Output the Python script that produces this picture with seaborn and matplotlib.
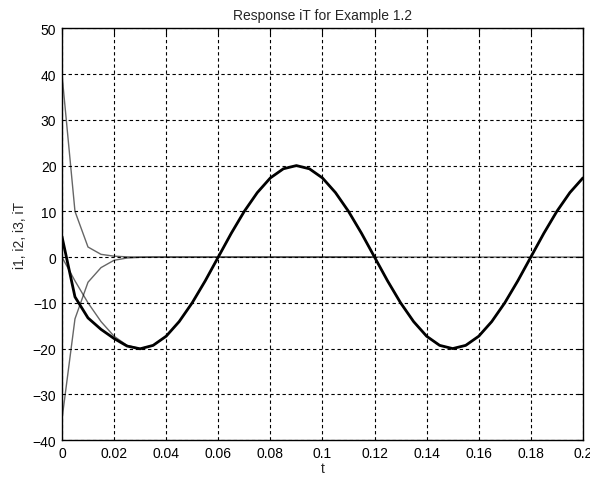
import numpy as np
import matplotlib
matplotlib.use("Agg")
import matplotlib.pyplot as plt
import seaborn as sns

# time samples (s)
t = [0.000, 0.005, 0.010, 0.015, 0.020, 0.025, 0.030, 0.035, 0.040, 0.045,
     0.050, 0.055, 0.060, 0.065, 0.070, 0.075, 0.080, 0.085, 0.090, 0.095,
     0.100, 0.105, 0.110, 0.115, 0.120, 0.125, 0.130, 0.135, 0.140, 0.145,
     0.150, 0.155, 0.160, 0.165, 0.170, 0.175, 0.180, 0.185, 0.190, 0.195,
     0.200]

# transient current i1 (decays from 40)
i1 = [40.0, 10.0, 2.2, 0.6, 0.2, 0.05, 0.0, 0.0, 0.0, 0.0,
      0.0, 0.0, 0.0, 0.0, 0.0, 0.0, 0.0, 0.0, 0.0, 0.0,
      0.0, 0.0, 0.0, 0.0, 0.0, 0.0, 0.0, 0.0, 0.0, 0.0,
      0.0, 0.0, 0.0, 0.0, 0.0, 0.0, 0.0, 0.0, 0.0, 0.0,
      0.0]

# transient current i2 (rises from about -36), shorter record
i2 = [-35.5, -13.5, -5.5, -2.3, -0.7, -0.2, -0.05, 0.0, 0.0, 0.0,
      0.0, 0.0, 0.0, 0.0, 0.0, 0.0, 0.0, 0.0, 0.0, 0.0,
      0.0, 0.0, 0.0, 0.0, 0.0]

# steady-state current i3
i3 = [0.0, -5.2, -10.0, -14.1, -17.3, -19.3, -20.0, -19.3, -17.3, -14.1,
      -10.0, -5.2, 0.0, 5.2, 10.0, 14.1, 17.3, 19.3, 20.0, 19.3,
      17.3, 14.1, 10.0, 5.2, 0.0, -5.2, -10.0, -14.1, -17.3, -19.3,
      -20.0, -19.3, -17.3, -14.1, -10.0, -5.2, 0.0, 5.2, 10.0, 14.1,
      17.3]

# total response iT = i1 + i2 + i3
iT = np.array(i1) + np.array(i3)
iT[:len(i2)] += np.array(i2)

sns.set_style("white")
plt.rcParams['font.family'] = ['Liberation Sans', 'DejaVu Sans']

fig = plt.figure(figsize=(5.9, 4.81), dpi=100)
ax = fig.add_axes([0.105, 0.083, 0.883, 0.856])

thin = dict(color='black', linewidth=1.0, alpha=0.6)
sns.lineplot(x=t, y=i1, ax=ax, **thin)
sns.lineplot(x=t[:len(i2)], y=i2, ax=ax, **thin)
sns.lineplot(x=t, y=i3, ax=ax, **thin)
sns.lineplot(x=t, y=iT, ax=ax, color='black', linewidth=2.0)

ax.set_xlim(0, 0.2)
ax.set_ylim(-40, 50)
ax.set_xticks([0, 0.02, 0.04, 0.06, 0.08, 0.1, 0.12, 0.14, 0.16, 0.18, 0.2])
ax.set_xticklabels(['0', '0.02', '0.04', '0.06', '0.08', '0.1', '0.12',
                    '0.14', '0.16', '0.18', '0.2'])
ax.set_yticks(range(-40, 51, 10))

ax.grid(True, color='black', linestyle=(0, (3, 2.5)), linewidth=0.8)
for s in ax.spines.values():
    s.set_color('black')
    s.set_linewidth(1.0)
ax.tick_params(direction='in', length=4, labelsize=10, colors='black',
               top=True, right=True, pad=4)

ax.set_title("Response iT for Example 1.2", fontsize=10, pad=7)
ax.set_xlabel("t", fontsize=10, labelpad=1)
ax.set_ylabel("i1, i2, i3, iT", fontsize=10, labelpad=4)

fig.savefig("out.png", dpi=100)
